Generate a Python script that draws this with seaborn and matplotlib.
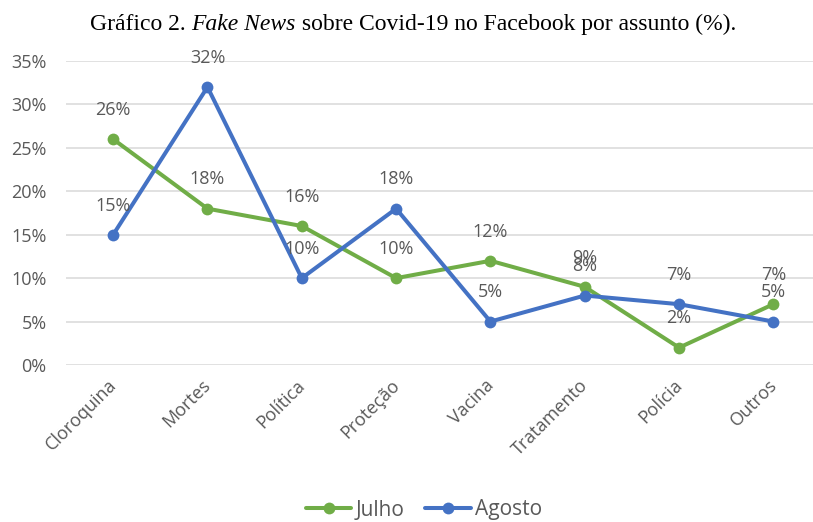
import matplotlib
matplotlib.use("Agg")
import matplotlib.pyplot as plt
from matplotlib.transforms import ScaledTranslation
from matplotlib.lines import Line2D
import seaborn as sns
import pandas as pd

# Topics and monthly shares (%)
assuntos = ["Cloroquina", "Mortes", "Política", "Proteção", "Vacina",
            "Tratamento", "Polícia", "Outros"]
julho = [26, 18, 16, 10, 12, 9, 2, 7]
agosto = [15, 32, 10, 18, 5, 8, 7, 5]
meses = ["Julho", "Agosto"]
yticks = [0, 5, 10, 15, 20, 25, 30, 35]

cores = {"Julho": "#70AD47", "Agosto": "#4472C4"}
cinza = "#595959"

df = pd.DataFrame({
    "assunto": assuntos * 2,
    "valor": julho + agosto,
    "mes": ["Julho"] * len(julho) + ["Agosto"] * len(agosto),
})

sns.set_theme(style="white")
plt.rcParams["font.family"] = ["Open Sans", "DejaVu Sans"]

fig = plt.figure(figsize=(8.13, 5.22), dpi=100)
ax = fig.add_axes([66 / 813, 157 / 522, 1 - 66 / 813, (365 - 61) / 522])

sns.lineplot(data=df, x="assunto", y="valor", hue="mes", hue_order=meses,
             palette=cores, marker="o", markersize=8.5, markeredgewidth=0,
             linewidth=2.9, sort=False, ax=ax, legend=False)

# Value labels above each point
for mes, vals in zip(meses, [julho, agosto]):
    for i, v in enumerate(vals):
        ax.annotate(f"{v}%", (i, v), xytext=(0, 21), textcoords="offset points",
                    ha="center", va="center", fontsize=13, color=cinza)

ax.set_xlim(-0.5, 7.42)
ax.set_ylim(0, 35)
ax.set_yticks(yticks)
ax.set_yticklabels([f"{t}%" for t in yticks])
ax.grid(axis="y", color="#D9D9D9", linewidth=1.1)
ax.grid(axis="x", visible=False)
for s in ax.spines.values():
    s.set_visible(False)
ax.tick_params(axis="y", length=0, pad=14, labelsize=13, labelcolor=cinza)
ax.tick_params(axis="x", length=0, pad=8, labelsize=13, labelcolor=cinza)
ax.set_xlabel("")
ax.set_ylabel("")
ax.set_xticks(range(len(assuntos)))
ax.set_xticklabels(assuntos, rotation=45, ha="right", va="top")
shift = ScaledTranslation(5 / 72, 0, fig.dpi_scale_trans)
for lab in ax.get_xticklabels():
    lab.set_transform(lab.get_transform() + shift)

# Legend below the chart
handles = [Line2D([], [], color=cores[m], marker="o", markersize=8.5,
                  markeredgewidth=0, linewidth=2.9) for m in meses]
fig.legend(handles, meses, loc="center", bbox_to_anchor=(424 / 813, 1 - 510 / 522),
           ncol=2, frameon=False, fontsize=15, handlelength=2.2,
           handletextpad=0.2, columnspacing=1.0, labelcolor=cinza)

# Title with an italic segment
partes = [("Gráfico 2. ", "normal"), ("Fake News", "italic"),
          (" sobre Covid-19 no Facebook por assunto (%).", "normal")]
fig.canvas.draw()
renderer = fig.canvas.get_renderer()
textos = []
for txt, estilo in partes:
    t = fig.text(0, 1 - 30 / 522, txt, fontsize=17, style=estilo,
                 family="Liberation Serif", color="black", va="baseline", ha="left")
    textos.append(t)
larguras = [t.get_window_extent(renderer).width for t in textos]
total = sum(larguras)
x = 413 - total / 2
for t, w in zip(textos, larguras):
    t.set_x(x / 813)
    x += w

fig.savefig("out.png", dpi=100)
